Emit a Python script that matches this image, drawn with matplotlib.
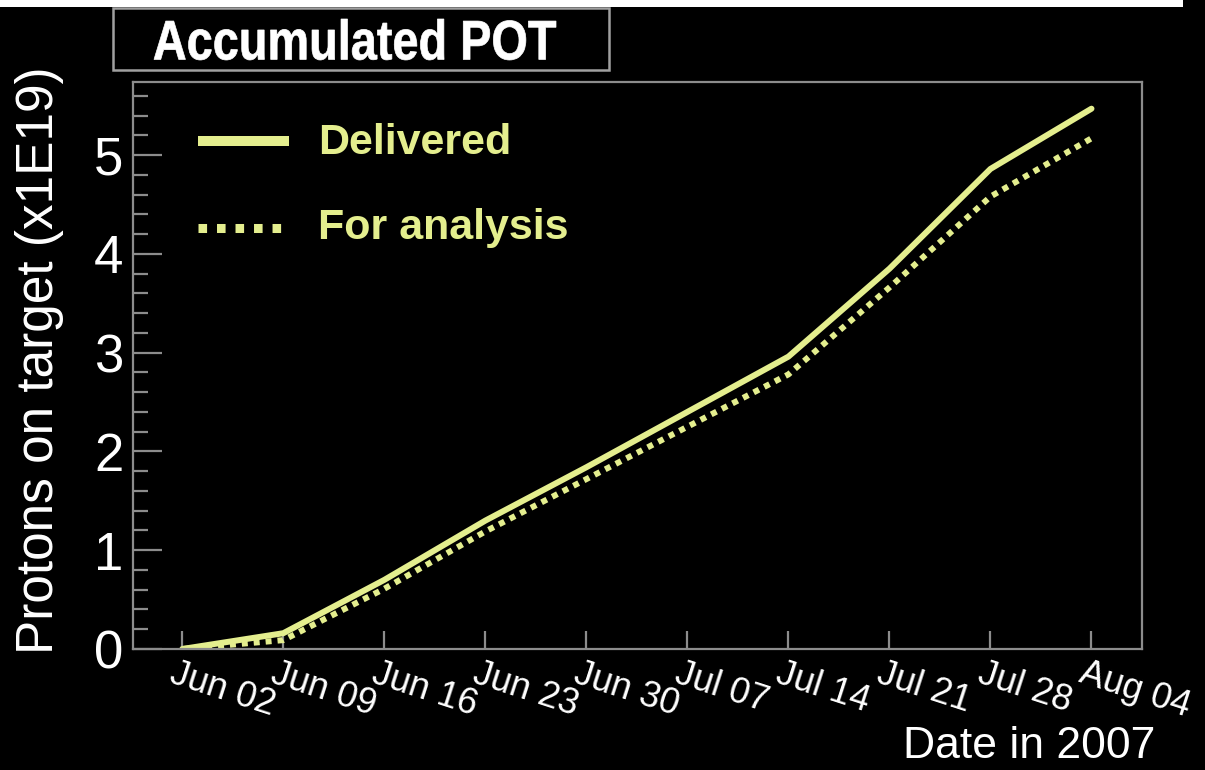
import matplotlib
matplotlib.use("Agg")
import matplotlib.pyplot as plt
from matplotlib.lines import Line2D
from matplotlib.patches import Rectangle, PathPatch
from matplotlib.textpath import TextPath
from matplotlib.font_manager import FontProperties
from matplotlib.ticker import MultipleLocator
import matplotlib.transforms as mtrans
from datetime import datetime

# ---- data ----
dates = ["2007-06-02", "2007-06-09", "2007-06-16", "2007-06-23", "2007-06-30",
         "2007-07-07", "2007-07-14", "2007-07-21", "2007-07-28", "2007-08-04"]
delivered = [0.00, 0.16, 0.70, 1.30, 1.84, 2.40, 2.96, 3.85, 4.86, 5.47]
for_analysis = [0.00, 0.09, 0.61, 1.19, 1.72, 2.25, 2.78, 3.66, 4.58, 5.17]
tick_dates = ["2007-06-02", "2007-06-09", "2007-06-16", "2007-06-23", "2007-06-30",
              "2007-07-07", "2007-07-14", "2007-07-21", "2007-07-28", "2007-08-04"]
tick_labels = ["Jun 02", "Jun 09", "Jun 16", "Jun 23", "Jun 30",
               "Jul 07", "Jul 14", "Jul 21", "Jul 28", "Aug 04"]
series_names = ["Delivered", "For analysis"]
title = "Accumulated POT"
ylabel = "Protons on target (x1E19)"
xlabel = "Date in 2007"

W, H = 1205, 770
LINE_C = "#E4EE8E"
GRAY = "#8c8c8c"

plt.rcParams['font.family'] = ['Liberation Sans', 'DejaVu Sans']

fig = plt.figure(figsize=(W / 100, H / 100), dpi=100, facecolor="black")
ax = fig.add_axes([133 / W, 1 - 649 / H, (1142 - 133) / W, (649 - 82) / H])
ax.set_facecolor("black")

x = [datetime.strptime(d, "%Y-%m-%d") for d in dates]
ax.plot(x, delivered, color=LINE_C, lw=4.3, solid_capstyle="round")
ax.plot(x, for_analysis, color=LINE_C, lw=4.3, linestyle=(0, (1.0, 1.0)),
        dash_capstyle="butt")

xt = [datetime.strptime(d, "%Y-%m-%d") for d in tick_dates]
ax.set_xlim(datetime(2007, 5, 29, 14), datetime(2007, 8, 7, 12))
ax.set_ylim(0, 5.74)

ax.set_xticks(xt)
ax.set_xticklabels(tick_labels)
ax.yaxis.set_major_locator(MultipleLocator(1))
ax.yaxis.set_minor_locator(MultipleLocator(0.2))

for s in ax.spines.values():
    s.set_color(GRAY)
    s.set_linewidth(1.6)

ax.tick_params(axis="x", which="major", direction="in", length=13, width=1.6,
               color=GRAY, labelcolor="white", labelsize=26, pad=5)
ax.tick_params(axis="y", which="major", direction="in", length=21, width=1.6,
               color=GRAY, labelcolor="white", labelsize=38, pad=7)
ax.tick_params(axis="y", which="minor", direction="in", length=10.5, width=1.6,
               color=GRAY)

off = mtrans.ScaledTranslation(-6 / 100, 0, fig.dpi_scale_trans)
for lab in ax.get_xticklabels():
    lab.set_rotation(-18)
    lab.set_rotation_mode("anchor")
    lab.set_ha("left")
    lab.set_va("top")
    lab.set_transform(lab.get_transform() + off)

# y label
fig.text(40 / W, 1 - 360 / H, ylabel, rotation=90, ha="center", va="center",
         color="white", fontsize=37)
# x label
fig.text(1155 / W, 1 - 758 / H, xlabel, ha="right", va="baseline",
         color="white", fontsize=32)

# legend (drawn manually)
fig.add_artist(Line2D([198 / W, 289 / W], [1 - 141 / H, 1 - 141 / H],
                      transform=fig.transFigure, color=LINE_C, lw=7.2,
                      solid_capstyle="butt"))
fig.add_artist(Line2D([198 / W, 289 / W], [1 - 228 / H, 1 - 228 / H],
                      transform=fig.transFigure, color=LINE_C, lw=6.5,
                      linestyle=(0, (0.95, 1.1)), dash_capstyle="butt"))
fig.text(318 / W, 1 - 143 / H, series_names[0], ha="left", va="center",
         color=LINE_C, fontsize=31, fontweight="bold")
fig.text(318 / W, 1 - 228 / H, series_names[1], ha="left", va="center",
         color=LINE_C, fontsize=31, fontweight="bold")

# title box
fig.add_artist(Rectangle((113 / W, 1 - 70 / H), (609 - 113) / W, (70 - 8) / H,
                         transform=fig.transFigure, facecolor="black",
                         edgecolor="#a0a0a0", lw=1.8))
# condensed bold title text fitted into its box (pixel coords)
tp = TextPath((0, 0), title, size=1,
              prop=FontProperties(family="Liberation Sans", weight="bold"))
ext = tp.get_extents()
x0, x1 = 154, 556
ytop, ybot = 19, 60
sx = (x1 - x0) / ext.width
sy = (ybot - ytop) / ext.height
tr = mtrans.Affine2D().translate(-ext.x0, -ext.y0).scale(sx, sy).translate(x0, H - ybot)
fig.add_artist(PathPatch(tp, transform=tr, facecolor="white", edgecolor="white",
                         lw=0.5))

# white strip at top
fig.add_artist(Rectangle((0, 1 - 7 / H), 1183 / W, 7 / H,
                         transform=fig.transFigure, facecolor="white",
                         edgecolor="none"))

fig.savefig("out.png", dpi=100, facecolor="black")
